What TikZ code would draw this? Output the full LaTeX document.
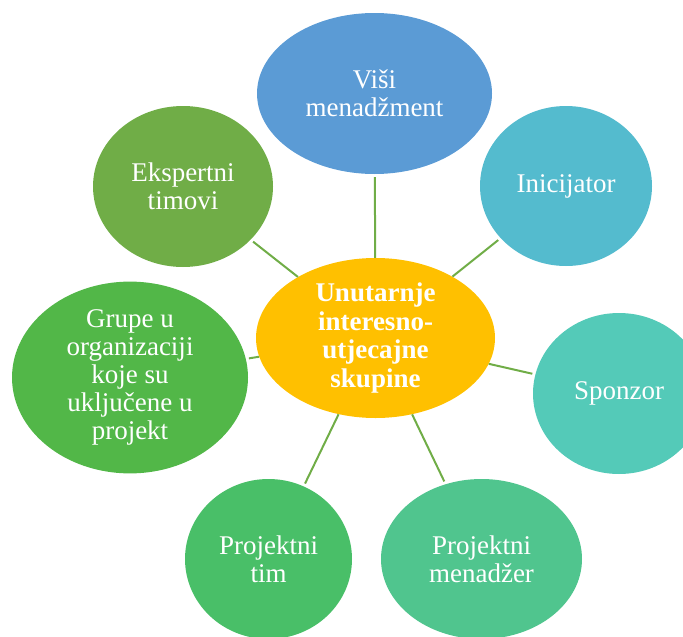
\documentclass[tikz,border=0pt]{standalone}
\usepackage{fontspec}
\setmainfont{Liberation Serif}
\usepackage{tikz}
\usetikzlibrary{shapes.geometric}

\definecolor{hubyellow}{RGB}{255,192,0}
\definecolor{linkgreen}{RGB}{112,173,71}
\definecolor{cvm}{RGB}{91,155,213}
\definecolor{cini}{RGB}{84,187,206}
\definecolor{cspo}{RGB}{84,202,184}
\definecolor{cpm}{RGB}{80,197,142}
\definecolor{cpt}{RGB}{73,191,104}
\definecolor{cgr}{RGB}{82,183,72}
\definecolor{cet}{RGB}{112,173,71}

\tikzset{
  bubble/.style={ellipse,inner sep=0pt,text=white,align=center,
    font=\fontsize{27}{28}\selectfont},
  link/.style={draw=linkgreen,line width=2pt,shorten >=3pt}
}

\begin{document}
\begin{tikzpicture}[x=1pt,y=-1pt]
    \useasboundingbox (0,0) rectangle (683,637);
    \node[bubble,fill=cvm,minimum width=235,minimum height=161] (vm)  at (374.5,93.5) {Viši\\menadžment};
    \node[bubble,fill=cini,minimum width=172,minimum height=160] (ini) at (566,186)   {Inicijator};
    \node[bubble,fill=cspo,minimum width=172,minimum height=161] (spo) at (619,393.5) {Sponzor};
    \node[bubble,fill=cpm,minimum width=201,minimum height=160] (pm)  at (481.5,559) {Projektni\\menadžer};
    \node[bubble,fill=cpt,minimum width=167,minimum height=160] (pt)  at (268.5,559) {Projektni\\tim};
    \node[bubble,fill=cgr,minimum width=236,minimum height=161] (gr)  at (130,377.5) {Grupe u\\organizaciji\\koje su\\uključene u\\projekt};
    \node[bubble,fill=cet,minimum width=180,minimum height=161] (et)  at (183,186.5) {Ekspertni\\timovi};
    \node[bubble,fill=hubyellow,minimum width=239,minimum height=160,
      font=\fontsize{27}{28.5}\selectfont\bfseries] (hub) at (375.5,338)
      {Unutarnje\\interesno-\\utjecajne\\skupine};
    \path[link]
    (hub) edge (vm)
    (hub) edge (ini)
    (hub) edge (spo)
    (hub) edge (pm)
    (hub) edge (pt)
    (hub) edge (gr)
    (hub) edge (et);
  \end{tikzpicture}
\end{document}
